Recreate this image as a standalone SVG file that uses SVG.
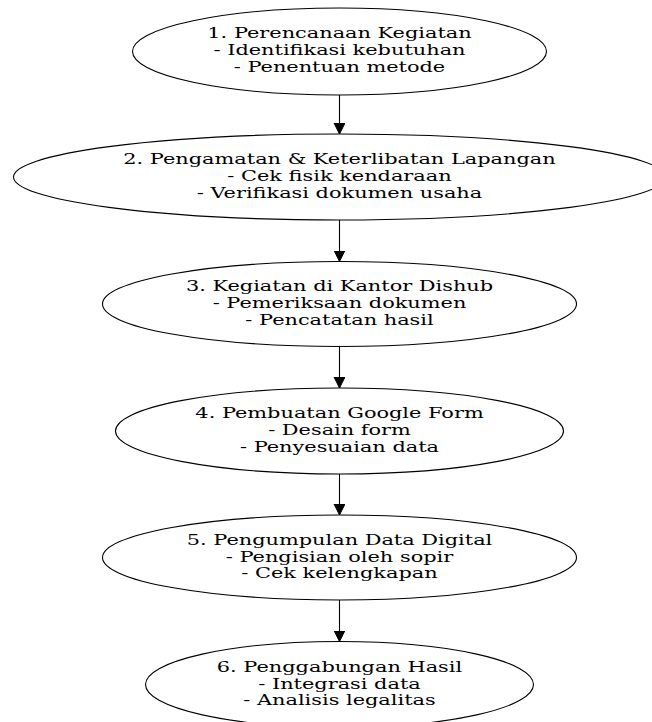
<svg xmlns="http://www.w3.org/2000/svg" width="652" height="722" viewBox="0 0 652 722">
<style>
.node ellipse{fill:#ffffff;stroke:#000000;stroke-width:1.1}
.node text{font-family:"DejaVu Serif",serif;font-size:14.6px;fill:#000000;text-anchor:middle}
.edge{stroke:#000000;stroke-width:1.1;fill:none;marker-end:url(#ah)}
</style>
<defs>
<marker id="ah" markerUnits="userSpaceOnUse" markerWidth="12" markerHeight="12" refX="11" refY="5.5" orient="auto">
<path d="M0,0 L11,5.5 L0,11 Z" fill="#000000" stroke="#000000" stroke-width="1"/>
</marker>
</defs>
<rect width="652" height="722" fill="#ffffff"/>
<g id="connectors">
<line class="edge" x1="339.5" y1="95" x2="339.5" y2="134"/>
<line class="edge" x1="339.5" y1="220" x2="339.5" y2="261.5"/>
<line class="edge" x1="339.5" y1="346.5" x2="339.5" y2="388"/>
<line class="edge" x1="339.5" y1="474" x2="339.5" y2="515"/>
<line class="edge" x1="339.5" y1="600" x2="339.5" y2="641.5"/>
</g>
<g id="n1" class="node">
<ellipse cx="339.5" cy="51.5" rx="207" ry="43.5"/>
<g transform="matrix(1.43 0 0 1 339.5 0)">
<text x="0" y="38.5">1. Perencanaan Kegiatan</text>
<text x="0" y="55.2">- Identifikasi kebutuhan</text>
<text x="0" y="72">- Penentuan metode</text>
</g>
</g>
<g id="n2" class="node">
<ellipse cx="339.5" cy="177" rx="326" ry="43"/>
<g transform="matrix(1.43 0 0 1 339.5 0)">
<text x="0" y="164.5">2. Pengamatan &amp; Keterlibatan Lapangan</text>
<text x="0" y="181.2">- Cek fisik kendaraan</text>
<text x="0" y="198">- Verifikasi dokumen usaha</text>
</g>
</g>
<g id="n3" class="node">
<ellipse cx="339.5" cy="304" rx="237" ry="42.5"/>
<g transform="matrix(1.43 0 0 1 339.5 0)">
<text x="0" y="291.5">3. Kegiatan di Kantor Dishub</text>
<text x="0" y="308.2">- Pemeriksaan dokumen</text>
<text x="0" y="325">- Pencatatan hasil</text>
</g>
</g>
<g id="n4" class="node">
<ellipse cx="339.5" cy="431" rx="224" ry="43"/>
<g transform="matrix(1.43 0 0 1 339.5 0)">
<text x="0" y="418.5">4. Pembuatan Google Form</text>
<text x="0" y="435.2">- Desain form</text>
<text x="0" y="452">- Penyesuaian data</text>
</g>
</g>
<g id="n5" class="node">
<ellipse cx="339.5" cy="557.5" rx="237" ry="42.5"/>
<g transform="matrix(1.43 0 0 1 339.5 0)">
<text x="0" y="545">5. Pengumpulan Data Digital</text>
<text x="0" y="561.7">- Pengisian oleh sopir</text>
<text x="0" y="578.5">- Cek kelengkapan</text>
</g>
</g>
<g id="n6" class="node">
<ellipse cx="339.5" cy="684.5" rx="194" ry="43"/>
<g transform="matrix(1.43 0 0 1 339.5 0)">
<text x="0" y="672">6. Penggabungan Hasil</text>
<text x="0" y="688.7">- Integrasi data</text>
<text x="0" y="705.5">- Analisis legalitas</text>
</g>
</g>
</svg>
